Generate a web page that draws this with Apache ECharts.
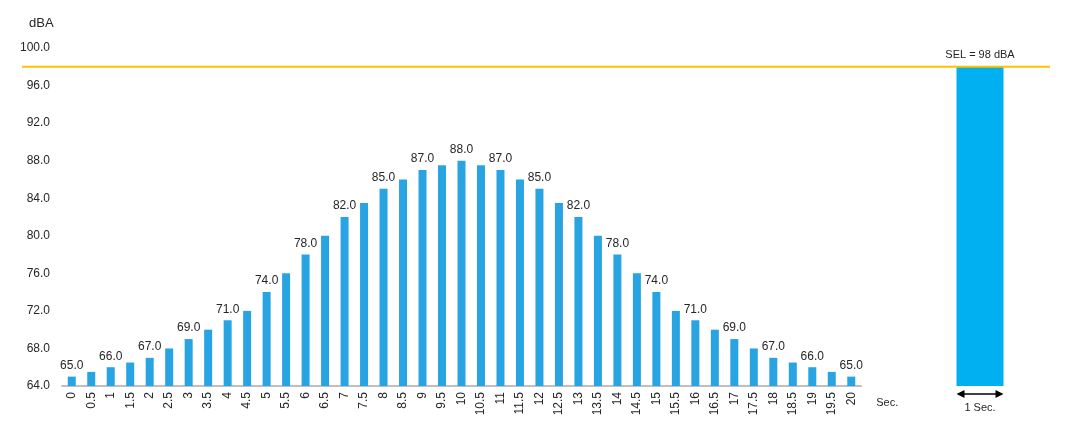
<!DOCTYPE html>
<html>
<head>
<meta charset="utf-8">
<script src="https://cdn.jsdelivr.net/npm/echarts@6/dist/echarts.min.js"></script>
<style>html,body{margin:0;padding:0;background:#fff}#c{width:1066px;height:440px}</style>
</head>
<body>
<div id="c"></div>
<script>
const times = ['0','0.5','1','1.5','2','2.5','3','3.5','4','4.5','5','5.5','6','6.5','7','7.5','8','8.5','9','9.5','10','10.5','11','11.5','12','12.5','13','13.5','14','14.5','15','15.5','16','16.5','17','17.5','18','18.5','19','19.5','20'];
const levels = [65,65.5,66,66.5,67,68,69,70,71,72,74,76,78,80,82,83.5,85,86,87,87.5,88,87.5,87,86,85,83.5,82,80,78,76,74,72,71,70,69,68,67,66.5,66,65.5,65];
const selCategory = ['1 Sec.'];
const selValue = [98];
const yMin = 64, yMax = 100, yStep = 4;

const font = 'Liberation Sans, Arial, sans-serif';
const chart = echarts.init(document.getElementById('c'));

const barData = levels.map((v, i) => ({
  value: v,
  label: { show: Number(times[i]) % 1 === 0 }
}));

chart.setOption({
  animation: false,
  title: { text: 'dBA', left: 24, top: 12, textStyle: { fontFamily: font, fontSize: 13, fontWeight: 'normal', color: '#262626' } },
  grid: [
    { left: 62, right: 205, top: 48, bottom: 54 },
    { left: 930, width: 100, top: 48, bottom: 54 }
  ],
  xAxis: [
    { type: 'category', gridIndex: 0, data: times,
      axisLine: { lineStyle: { color: '#BFBFBF', width: 2 } },
      axisTick: { show: false },
      axisLabel: { rotate: 90, interval: 0, margin: 6, fontFamily: font, fontSize: 12, color: '#262626' } },
    { type: 'category', gridIndex: 1, data: selCategory,
      axisLine: { show: false }, axisTick: { show: false },
      axisLabel: { margin: 16, fontFamily: font, fontSize: 11, color: '#262626' } }
  ],
  yAxis: [
    { type: 'value', gridIndex: 0, min: yMin, max: yMax, interval: yStep,
      axisLine: { show: false }, axisTick: { show: false }, splitLine: { show: false },
      axisLabel: { formatter: v => v.toFixed(1), margin: 12, fontFamily: font, fontSize: 12, color: '#262626' } },
    { type: 'value', gridIndex: 1, min: yMin, max: yMax, interval: yStep, show: false }
  ],
  series: [
    { type: 'bar', xAxisIndex: 0, yAxisIndex: 0, data: barData, barWidth: 8,
      itemStyle: { color: '#29A4E3' },
      label: { position: 'top', formatter: p => p.value.toFixed(1), distance: 5, fontFamily: font, fontSize: 12, color: '#262626' } },
    { type: 'bar', xAxisIndex: 1, yAxisIndex: 1, data: selValue, barWidth: 47,
      itemStyle: { color: '#00B0F0' },
      label: { show: true, position: 'top', distance: 6, formatter: p => 'SEL = ' + p.value + ' dBA', fontFamily: font, fontSize: 11, color: '#262626' } }
  ]
});

const lineY = chart.convertToPixel({ yAxisIndex: 0 }, selValue[0]);
const axisEnd = chart.convertToPixel({ xAxisIndex: 0 }, times[times.length - 1]);
const base = chart.convertToPixel({ seriesIndex: 1 }, [selCategory[0], yMin]);
const half = 47 / 2, ay = base[1] + 8;
chart.setOption({
  graphic: [
    { type: 'line', z: 10, shape: { x1: 22, y1: lineY, x2: 1050, y2: lineY }, style: { stroke: '#FFC000', lineWidth: 2 } },
    { type: 'text', x: axisEnd + 25, y: base[1] + 17, style: { text: 'Sec.', fontFamily: font, fontSize: 11, fill: '#262626', verticalAlign: 'middle' } },
    { type: 'line', shape: { x1: base[0] - half + 4, y1: ay, x2: base[0] + half - 4, y2: ay }, style: { stroke: '#000', lineWidth: 1.5 } },
    { type: 'polygon', shape: { points: [[base[0] - half, ay], [base[0] - half + 8, ay - 4], [base[0] - half + 8, ay + 4]] }, style: { fill: '#000' } },
    { type: 'polygon', shape: { points: [[base[0] + half, ay], [base[0] + half - 8, ay - 4], [base[0] + half - 8, ay + 4]] }, style: { fill: '#000' } }
  ]
});
</script>
</body>
</html>
